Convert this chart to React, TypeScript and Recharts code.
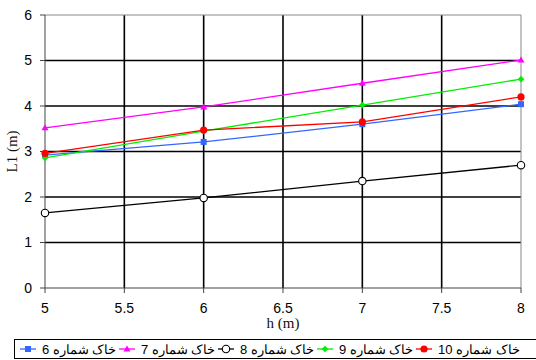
import React from 'react';
import { LineChart, Line, XAxis, YAxis, CartesianGrid, ReferenceLine } from 'recharts';

const hValues = [5, 6, 7, 8];
const soil6 = [2.92, 3.21, 3.6, 4.04];
const soil7 = [3.52, 3.98, 4.5, 5.01];
const soil8 = [1.65, 1.98, 2.35, 2.7];
const soil9 = [2.86, 3.45, 4.02, 4.59];
const soil10 = [2.96, 3.47, 3.65, 4.2];

const xTicks = [5, 5.5, 6, 6.5, 7, 7.5, 8];
const yTicks = [0, 1, 2, 3, 4, 5, 6];

const legendNames = ['خاک شماره 6', 'خاک شماره 7', 'خاک شماره 8', 'خاک شماره 9', 'خاک شماره 10'];

const data = hValues.map((h, i) => ({
  h,
  s6: soil6[i],
  s7: soil7[i],
  s8: soil8[i],
  s9: soil9[i],
  s10: soil10[i],
}));

type MarkerKind = 'square' | 'triangle' | 'open' | 'diamond' | 'circle';

const series: { key: string; color: string; marker: MarkerKind }[] = [
  { key: 's6', color: '#3366ff', marker: 'square' },
  { key: 's7', color: '#ff00ff', marker: 'triangle' },
  { key: 's8', color: '#000000', marker: 'open' },
  { key: 's9', color: '#00ee00', marker: 'diamond' },
  { key: 's10', color: '#ff0000', marker: 'circle' },
];

const drawMarker = (kind: MarkerKind, color: string, cx: number, cy: number, k?: string) => {
  switch (kind) {
    case 'square':
      return <rect key={k} x={cx - 3} y={cy - 3} width={6} height={6} fill={color} />;
    case 'triangle':
      return <path key={k} d={`M${cx},${cy - 3.5} L${cx + 3.5},${cy + 2.5} L${cx - 3.5},${cy + 2.5} Z`} fill={color} />;
    case 'open':
      return <circle key={k} cx={cx} cy={cy} r={3.7} fill="#fff" stroke={color} strokeWidth={1.1} />;
    case 'diamond':
      return <path key={k} d={`M${cx},${cy - 3.3} L${cx + 3.3},${cy} L${cx},${cy + 3.3} L${cx - 3.3},${cy} Z`} fill={color} />;
    default:
      return <circle key={k} cx={cx} cy={cy} r={3.6} fill={color} />;
  }
};

const App: React.FC = () => {
  return (
    <div style={{ position: 'absolute', left: 0, top: 0, width: 536, height: 360, overflow: 'hidden', background: '#fff' }}>
      <LineChart width={536} height={360} data={data} margin={{ top: 15, right: 15, left: 0, bottom: 0 }}>
        <CartesianGrid
          stroke="#000"
          strokeWidth={1.6}
          horizontalValues={[1, 2, 3, 4, 5]}
          verticalValues={[5.5, 6, 6.5, 7, 7.5]}
        />
        <ReferenceLine y={6} stroke="#888" strokeWidth={1} />
        <ReferenceLine x={8} stroke="#888" strokeWidth={1} />
        <XAxis
          dataKey="h"
          type="number"
          domain={[5, 8]}
          ticks={xTicks}
          height={72}
          tickSize={5}
          tickMargin={10}
          stroke="#444"
          tick={{ fill: '#000', fontSize: 14, fontFamily: 'Liberation Sans, Arial, sans-serif' }}
          label={{
            value: 'h (m)',
            position: 'insideTop',
            offset: 29,
            fill: '#111',
            fontSize: 15,
            fontFamily: 'Liberation Serif, Times New Roman, serif',
          }}
        />
        <YAxis
          type="number"
          domain={[0, 6]}
          ticks={yTicks}
          width={45}
          tickSize={5}
          tickMargin={8}
          stroke="#444"
          tick={{ fill: '#000', fontSize: 14, fontFamily: 'Liberation Sans, Arial, sans-serif' }}
          label={{
            content: (props: any) => {
              const vb = props.viewBox || { x: 0, y: 15, width: 45, height: 273 };
              const cy = vb.y + vb.height / 2;
              return (
                <text
                  x={12}
                  y={cy}
                  transform={`rotate(-90, 12, ${cy})`}
                  textAnchor="middle"
                  dominantBaseline="central"
                  fill="#111"
                  fontSize={15}
                  fontFamily="Liberation Serif, Times New Roman, serif"
                >
                  L1 (m)
                </text>
              );
            },
          }}
        />
        {series.map((s) => (
          <Line
            key={s.key}
            dataKey={s.key}
            type="linear"
            stroke={s.color}
            strokeWidth={1.3}
            isAnimationActive={false}
            dot={(p: any) => drawMarker(s.marker, s.color, p.cx, p.cy, `${s.key}-${p.index}`)}
            activeDot={false}
          />
        ))}
      </LineChart>
      <div
        style={{
          position: 'absolute',
          left: 14,
          top: 339,
          width: 540,
          height: 20,
          border: '1px solid #000',
          boxSizing: 'border-box',
          fontFamily: 'Liberation Sans, Arial, sans-serif',
          fontSize: 13,
          color: '#000',
        }}
      >
        {series.map((s, i) => (
          <div
            key={s.key}
            style={{ position: 'absolute', left: 5 + i * 99, top: 0, height: 18, display: 'flex', alignItems: 'center' }}
          >
            <svg width={16} height={10}>
              <line x1={0} y1={5} x2={16} y2={5} stroke={s.color} strokeWidth={1.3} />
              {drawMarker(s.marker, s.color, 8, 5)}
            </svg>
            <span dir="rtl" style={{ marginLeft: 6, whiteSpace: 'nowrap' }}>
              {legendNames[i]}
            </span>
          </div>
        ))}
      </div>
    </div>
  );
};

export default App;
